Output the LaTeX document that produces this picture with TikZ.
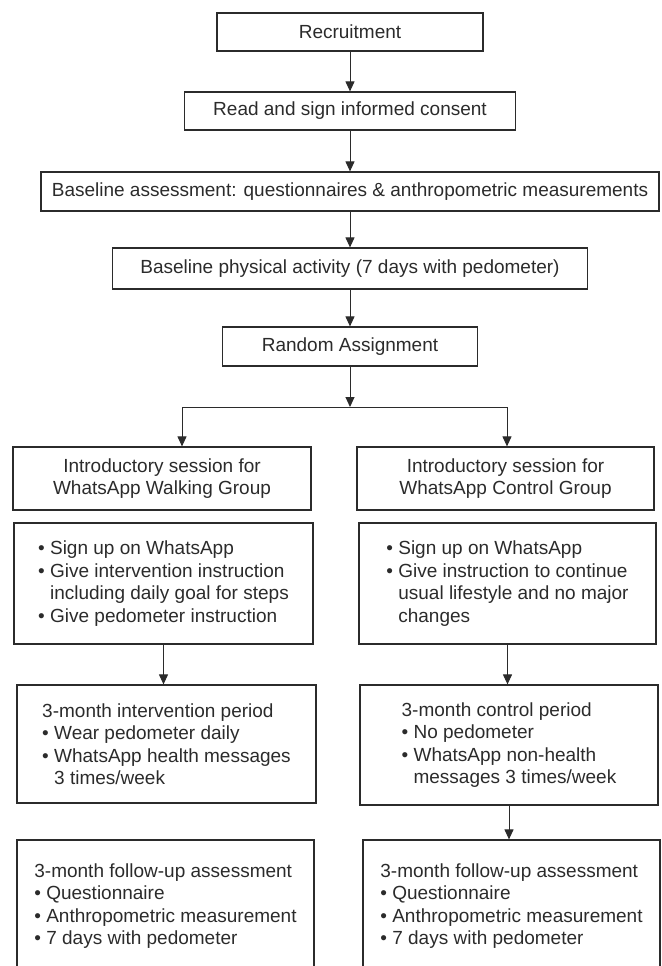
\documentclass[tikz,border=0pt]{standalone}
\usepackage{fontspec}
\setmainfont{Liberation Sans}
\usetikzlibrary{arrows.meta}
\definecolor{ink}{HTML}{2B2B2B}
\newcommand{\bul}{•\ }
\newcommand{\hang}{\hphantom{•\ }}

\begin{document}
\begin{tikzpicture}[x=1pt, y=-1pt]
		\tikzset{
			stage box/.style = {draw=ink, line width=1.2pt, text=ink, inner sep=0pt,
					font=\fontsize{19}{22.4}\selectfont, minimum height=38pt},
			list box/.style = {stage box, align=left},
			flow arrow/.style = {draw=ink, line width=1pt, -{Triangle[length=10pt, width=9pt]}}
		}
		\useasboundingbox (0,0) rectangle (661,966);
		\clip (0,0) rectangle (661,966);

		% common steps
		\node[stage box, minimum width=266pt] (recruit) at (350,32) {Recruitment};
		\node[stage box, minimum width=331pt] (consent) at (350,111) {Read and sign informed consent};
		\node[stage box, minimum width=618pt, minimum height=39pt] (baseline) at (350,191.5)
			{Baseline assessment: questionnaires \& anthropometric measurements};
		\node[stage box, minimum width=475pt, minimum height=41pt] (activity) at (350,268.5)
			{Baseline physical activity (7 days with pedometer)};
		\node[stage box, minimum width=255pt, minimum height=39pt] (random) at (350,346.5) {Random Assignment};

		\coordinate (splitL) at (182,407);
		\coordinate (splitR) at (507,407);

		% walking group
		\node[stage box, align=center, minimum width=298pt, minimum height=63pt] (introL) at (162,478.5)
			{Introductory session for\\WhatsApp Walking Group};
		\node[list box, minimum width=299pt, minimum height=121pt] (setupL) at (163.5,583.5)
			{\bul Sign up on WhatsApp\\
			\bul Give intervention instruction\\
			\hang including daily goal for steps\\
			\bul Give pedometer instruction};
		\node[list box, minimum width=299pt, minimum height=118pt] (periodL) at (166.5,744)
			{3-month intervention period\\
			\bul Wear pedometer daily\\
			\bul WhatsApp health messages\\
			\hang 3 times/week};
		\node[list box, minimum width=297pt, minimum height=132pt] (followL) at (165.5,906)
			{3-month follow-up assessment\\
			\bul Questionnaire\\
			\bul Anthropometric measurement\\
			\bul 7 days with pedometer};

		% control group
		\node[stage box, align=center, minimum width=297pt, minimum height=63pt] (introR) at (505.5,478.5)
			{Introductory session for\\WhatsApp Control Group};
		\node[list box, minimum width=297pt, minimum height=121pt] (setupR) at (507.5,583.5)
			{\bul Sign up on WhatsApp\\
			\bul Give instruction to continue\\
			\hang usual lifestyle and no major\\
			\hang changes};
		\node[list box, minimum width=298pt, minimum height=120pt] (periodR) at (509,745)
			{3-month control period\\
			\bul No pedometer\\
			\bul WhatsApp non-health\\
			\hang messages 3 times/week};
		\node[list box, minimum width=297pt, minimum height=132pt] (followR) at (511.5,906)
			{3-month follow-up assessment\\
			\bul Questionnaire\\
			\bul Anthropometric measurement\\
			\bul 7 days with pedometer};

		% connectors
		\draw[flow arrow] (recruit) -- (consent);
		\draw[flow arrow] (consent) -- (baseline);
		\draw[flow arrow] (baseline) -- (activity);
		\draw[flow arrow] (activity) -- (random);
		\draw[flow arrow] (random) -- (random.south |- splitL);
		\draw[draw=ink, line width=1pt] (splitL) -- (splitR);
		\draw[flow arrow] (splitL) -- (splitL |- introL.north);
		\draw[flow arrow] (splitR) -- (splitR |- introR.north);
		\draw[flow arrow] (setupL.south) -- (setupL.south |- periodL.north);
		\draw[flow arrow] (setupR.south) -- (setupR.south |- periodR.north);
		\draw[flow arrow] (periodR.south) -- (periodR.south |- followR.north);
	\end{tikzpicture}
\end{document}
